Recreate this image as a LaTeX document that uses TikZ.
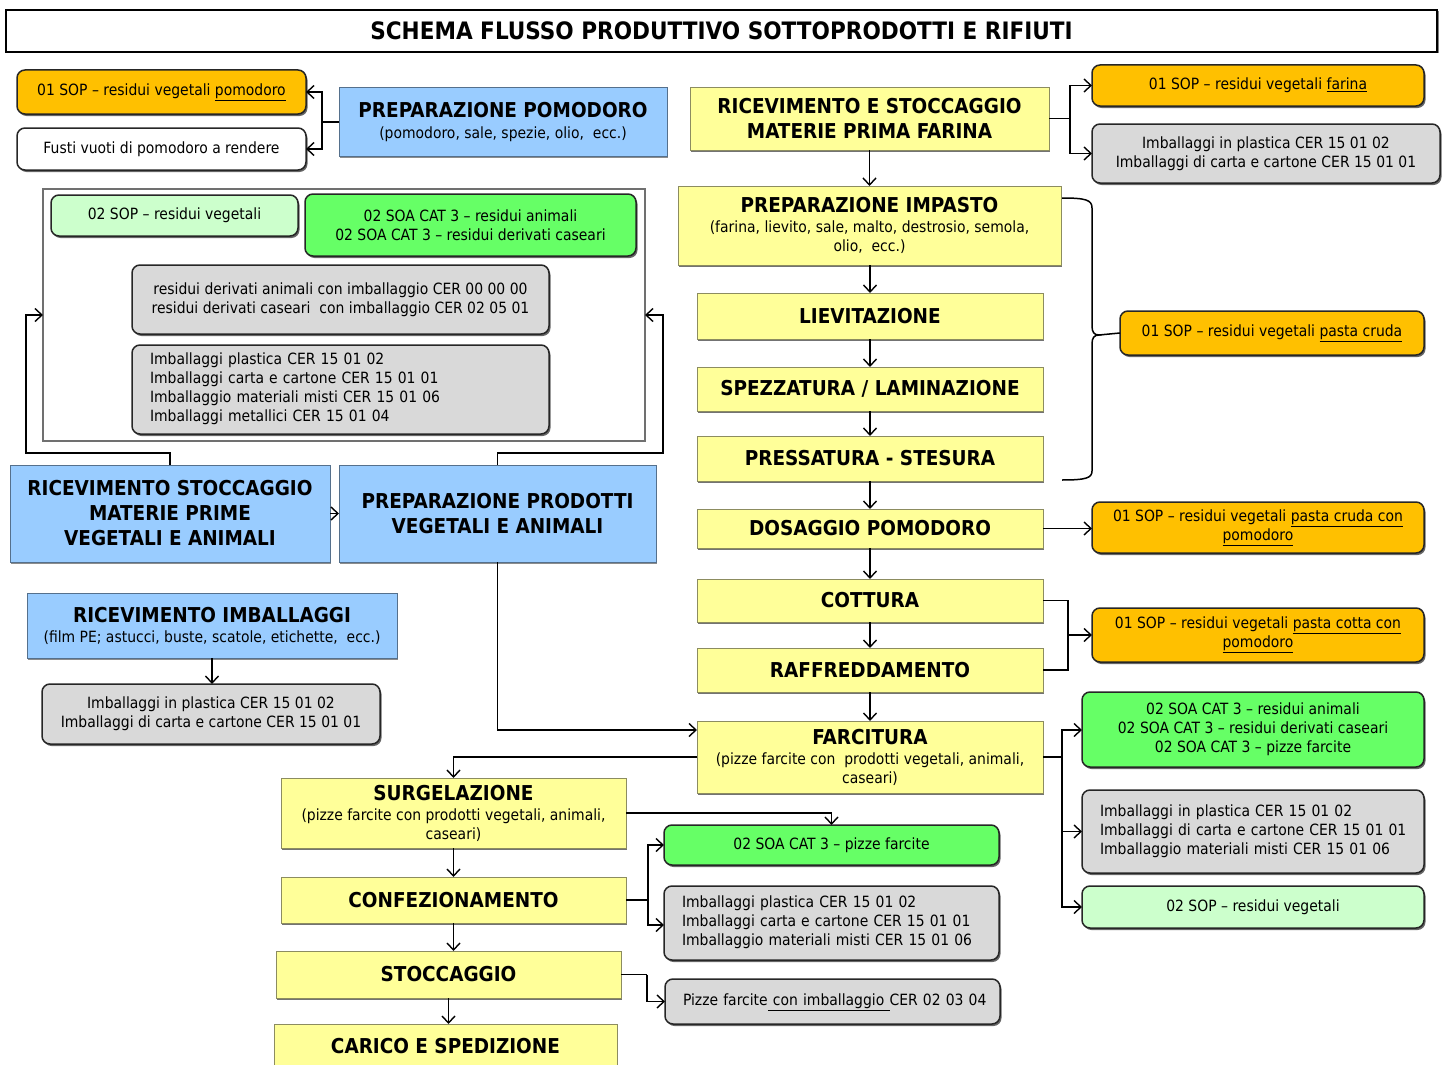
\documentclass[tikz,border=0pt]{standalone}
\usepackage{fontspec}
\setmainfont{DejaVu Sans Condensed}
\usetikzlibrary{arrows.meta,shadows,calc}

\definecolor{yel}{HTML}{FFFF99}
\definecolor{yelline}{HTML}{8C8C60}
\definecolor{blu}{HTML}{99CCFF}
\definecolor{bluline}{HTML}{55708C}
\definecolor{ora}{HTML}{FFC000}
\definecolor{grn}{HTML}{66FF66}
\definecolor{ltgrn}{HTML}{CCFFCC}
\definecolor{gry}{HTML}{D9D9D9}
\definecolor{frame}{HTML}{707070}

\newcommand\hd{\fontsize{20.5}{25}\selectfont\bfseries}
\newcommand\sm{\fontsize{15.5}{19}\selectfont}
% box given by its corners (x1,y1) and (x2,y2), y growing downwards
\newcommand\mybox[7]{\node[#6, minimum width={(#4-#2)*1pt}, minimum height={(#5-#3)*1pt}] (#1) at ({(#2+#4)/2},{(#3+#5)/2}) {#7};}
% unbreakable left-aligned block of lines
\newcommand\leftlines[1]{\begin{tabular}{@{}l@{}}#1\end{tabular}}

\tikzset{
  base/.style={inner sep=2pt, outer sep=0pt, align=center, font=\sm},
  hdf/.style={font=\hd},
  ybox/.style={base, fill=yel, draw=yelline, line width=0.8pt,
    drop shadow={shadow xshift=1pt, shadow yshift=-1.5pt, fill=black!55, opacity=1}},
  bbox/.style={base, fill=blu, draw=bluline, line width=1pt,
    drop shadow={shadow xshift=1pt, shadow yshift=-1.5pt, fill=black!45, opacity=1}},
  rbox/.style={base, rounded corners=8pt, draw=black!85, line width=1.5pt,
    drop shadow={shadow xshift=1.5pt, shadow yshift=-2pt, fill=black!60, opacity=1}},
  obox/.style={rbox, fill=ora},
  gbox/.style={rbox, fill=grn},
  lgbox/.style={rbox, fill=ltgrn},
  grbox/.style={rbox, fill=gry},
  wbox/.style={rbox, fill=white},
  lt/.style={align=left, inner xsep=18pt, text width=#1},
  conn/.style={line width=1.8pt, black},
  arr/.style={conn, -{Straight Barb[length=7pt,width=13pt,line width=1.4pt]}},
}

\begin{document}
\begin{tikzpicture}[x=1pt,y=-1pt]
\useasboundingbox (0,0) rectangle (1444,1065);

% title
\node[base, draw=black, line width=1.8pt, fill=white,
  drop shadow={shadow xshift=1.5pt, shadow yshift=-1.5pt, fill=black!50, opacity=1},
  minimum width=1431pt, minimum height=42pt, font=\fontsize{24}{28}\selectfont\bfseries]
  (title) at (721.5,31) {SCHEMA FLUSSO PRODUTTIVO SOTTOPRODOTTI E RIFIUTI};

% tomato preparation
\mybox{sopPom}{17}{70}{306}{114}{obox}{01 SOP – residui vegetali \underline{pomodoro}}
\mybox{fusti}{17}{128}{306}{170}{wbox}{Fusti vuoti di pomodoro a rendere}
\mybox{prepPom}{339}{88}{667}{156}{bbox}{{\hd PREPARAZIONE POMODORO}\\[2pt](pomodoro, sale, spezie, olio,~~ecc.)}

% flour line
\mybox{ricFar}{690}{87}{1049}{150}{ybox,hdf}{RICEVIMENTO E STOCCAGGIO\\MATERIE PRIMA FARINA}
\mybox{sopFar}{1092}{65}{1424}{106}{obox}{01 SOP – residui vegetali \underline{farina}}
\mybox{imbFar}{1092}{124}{1440}{183}{grbox}{Imballaggi in plastica CER 15 01 02\\Imballaggi di carta e cartone CER 15 01 01}

\mybox{impasto}{678}{186}{1061}{265}{ybox}{{\hd PREPARAZIONE IMPASTO}\\[1pt](farina, lievito, sale, malto, destrosio, semola,\\olio,~~ecc.)}
\mybox{liev}{697}{293}{1043}{339}{ybox,hdf}{LIEVITAZIONE}
\mybox{spezz}{697}{367}{1043}{411}{ybox,hdf}{SPEZZATURA / LAMINAZIONE}
\mybox{press}{697}{436}{1043}{481}{ybox,hdf}{PRESSATURA - STESURA}
\mybox{dos}{697}{509}{1043}{548}{ybox,hdf}{DOSAGGIO POMODORO}
\mybox{cott}{697}{579}{1043}{622}{ybox,hdf}{COTTURA}
\mybox{raff}{697}{648}{1043}{692}{ybox,hdf}{RAFFREDDAMENTO}
\mybox{farc}{697}{721}{1043}{793}{ybox}{{\hd FARCITURA}\\[1pt](pizze farcite con~ prodotti vegetali, animali,\\caseari)}

\mybox{sopCruda}{1120}{311}{1424}{355}{obox}{01 SOP – residui vegetali \underline{pasta cruda}}
\mybox{sopCrudaPom}{1092}{502}{1424}{553}{obox}{01 SOP – residui vegetali \underline{pasta cruda con}\\\underline{pomodoro}}
\mybox{sopCotta}{1092}{608}{1424}{662}{obox}{01 SOP – residui vegetali \underline{pasta cotta con}\\\underline{pomodoro}}
\mybox{soaFarc}{1082}{692}{1424}{767}{gbox}{02 SOA CAT 3 – residui animali\\02 SOA CAT 3 – residui derivati caseari\\02 SOA CAT 3 – pizze farcite}
\mybox{imbFarc}{1082}{790}{1424}{873}{grbox,lt=306pt}{\leftlines{Imballaggi in plastica CER 15 01 02\\Imballaggi di carta e cartone CER 15 01 01\\Imballaggio materiali misti CER 15 01 06}}
\mybox{sopVegR}{1082}{886}{1424}{928}{lgbox}{02 SOP – residui vegetali}

% vegetable and animal products
\node[draw=frame, line width=1.8pt, minimum width=602pt, minimum height=252pt, inner sep=0pt, outer sep=0pt]
  (cont) at (344,315) {};
\mybox{sopVegL}{51}{195}{298}{236}{lgbox}{02 SOP – residui vegetali}
\mybox{soaL}{305}{194}{636}{256}{gbox}{02 SOA CAT 3 – residui animali\\02 SOA CAT 3 – residui derivati caseari}
\mybox{cerL1}{132}{265}{549}{334}{grbox}{residui derivati animali con imballaggio CER 00 00 00\\residui derivati caseari~ con imballaggio CER 02 05 01}
\mybox{cerL2}{132}{345}{549}{434}{grbox,lt=381pt}{\leftlines{Imballaggi plastica CER 15 01 02\\Imballaggi carta e cartone CER 15 01 01\\Imballaggio materiali misti CER 15 01 06\\Imballaggi metallici CER 15 01 04}}

\mybox{ricMP}{10}{465}{330}{562}{bbox,hdf}{RICEVIMENTO STOCCAGGIO\\MATERIE PRIME\\VEGETALI E ANIMALI}
\mybox{prepProd}{339}{465}{656}{562}{bbox,hdf}{PREPARAZIONE PRODOTTI\\VEGETALI E ANIMALI}
\mybox{ricImb}{27}{593}{397}{658}{bbox}{{\hd RICEVIMENTO IMBALLAGGI}\\[1pt](film PE; astucci, buste, scatole, etichette,~~ecc.)}
\mybox{imbImb}{42}{684}{380}{744}{grbox}{Imballaggi in plastica CER 15 01 02\\Imballaggi di carta e cartone CER 15 01 01}

% freezing, packing, shipping
\mybox{surg}{281}{778}{626}{848}{ybox}{{\hd SURGELAZIONE}\\[1pt](pizze farcite con prodotti vegetali, animali,\\caseari)}
\mybox{soaPizze}{664}{825}{999}{865}{gbox}{02 SOA CAT 3 – pizze farcite}
\mybox{conf}{281}{877}{626}{923}{ybox,hdf}{CONFEZIONAMENTO}
\mybox{imbConf}{664}{886}{999}{960}{grbox,lt=299pt}{\leftlines{Imballaggi plastica CER 15 01 02\\Imballaggi carta e cartone CER 15 01 01\\Imballaggio materiali misti CER 15 01 06}}
\mybox{stocc}{276}{951}{621}{998}{ybox,hdf}{STOCCAGGIO}
\mybox{pizzeImb}{666}{979}{999}{1024}{grbox,lt=299pt}{\leftlines{Pizze farcite\underline{ con imballaggio }CER 02 03 04}}
\mybox{carico}{274}{1024}{617}{1068}{ybox,hdf}{CARICO E SPEDIZIONE}

% ---- connectors ----
\coordinate (jPom) at (322,122);
\draw[conn] (prepPom.west) -- (jPom);
\draw[arr] (jPom) |- (sopPom.east);
\draw[arr] (jPom) |- (fusti.east);

\coordinate (jFar) at (1070,118.5);
\draw[conn] (ricFar.east) -- (jFar);
\draw[arr] (jFar) |- (sopFar.west);
\draw[arr] (jFar) |- (imbFar.west);

\draw[arr] (ricFar.south) -- (impasto.north);
\draw[arr] (impasto.south -| liev.north) -- (liev.north);
\draw[arr] (liev.south) -- (spezz.north);
\draw[arr] (spezz.south) -- (press.north);
\draw[arr] (press.south) -- (dos.north);
\draw[arr] (dos.south) -- (cott.north);
\draw[arr] (cott.south) -- (raff.north);
\draw[arr] (raff.south) -- (farc.north);

% brace collecting the dough steps
\coordinate (brT) at (1062,198);
\coordinate (brB) at (1062,480);
\coordinate (brTip) at (1099,335);
\draw[conn, line width=1.5pt] (brT) .. controls (1086,198) and (1092,200) .. (1092,208) -- (1092,326)
  .. controls (1092,332) and (1094,335) .. (brTip)
  .. controls (1094,335) and (1092,338) .. (1092,344) -- (1092,471)
  .. controls (1092,478) and (1086,480) .. (brB);
\draw[conn, line width=1.5pt] (brTip) -- (sopCruda.west);

\draw[arr] (dos.east) -- (dos.east -| sopCrudaPom.west);

\coordinate (jCt) at (1068,600.5);
\coordinate (jRf) at (1068,670);
\draw[conn] (cott.east) -- (jCt) -- (jRf) -- (raff.east);
\draw[arr] (jCt |- sopCotta.west) -- (sopCotta.west);

\coordinate (jFc) at (1062,757);
\draw[conn] (farc.east) -- (jFc);
\draw[arr] (jFc) |- ([yshift=-0.5pt]soaFarc.west);
\draw[arr] (jFc) |- (imbFarc.west);
\draw[arr] (jFc) |- (sopVegR.west);

\draw[arr] (prepProd.south) |- ([yshift=27pt]farc.west);
\draw[arr] (farc.west) -| (surg.north);
\draw[arr] (surg.east) -| (soaPizze.north);
\draw[arr] (surg.south) -- (conf.north);
\draw[arr] (conf.south) -- (conf.south |- stocc.north);
\draw[arr] (stocc.south) -- (stocc.south |- carico.north);

\coordinate (jCf) at (648,900);
\draw[conn] (conf.east) -- (jCf);
\draw[arr] (jCf) |- (soaPizze.west);
\draw[arr] (jCf) |- ([yshift=-2pt]imbConf.west);

\coordinate (jSt) at (647,974.5);
\draw[conn] (stocc.east) -- (jSt);
\draw[arr] (jSt) |- (pizzeImb.west);

\draw[arr] (ricMP.east) -- (prepProd.west);
\coordinate (cL) at (26,453);
\coordinate (cR) at (663,453);
\draw[arr] (ricMP.north) |- (cL) |- (cont.west);
\draw[arr] (prepProd.north) |- (cR) |- (cont.east);

\draw[arr] (ricImb.south) -- (ricImb.south |- imbImb.north);
\end{tikzpicture}
\end{document}
